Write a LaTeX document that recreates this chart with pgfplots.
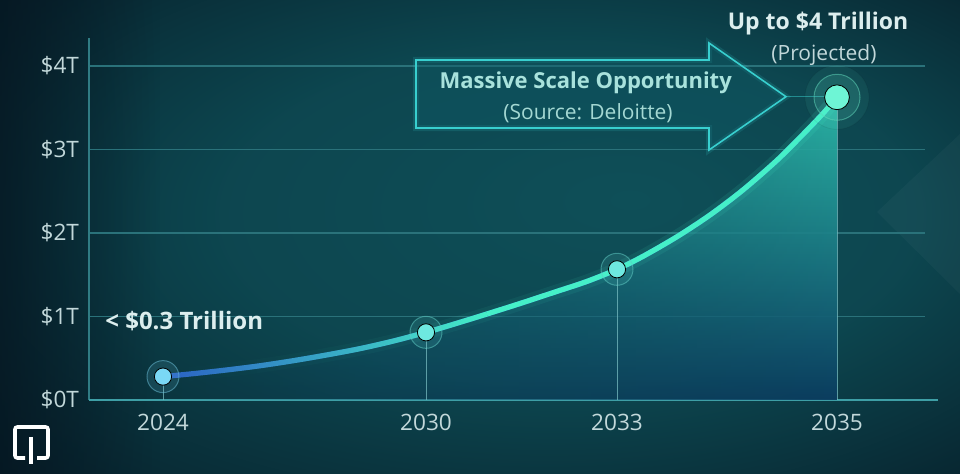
\documentclass[border=0pt]{standalone}
\usepackage{pgfplots}
\pgfplotsset{compat=1.18}
\usepackage{pgfplotstable}
\usetikzlibrary{fadings}
\usepackage{fontspec}
\setmainfont{Open Sans}

\definecolor{bgmid}{HTML}{0E4F58}
\definecolor{bgedge}{HTML}{05141F}
\definecolor{txt}{HTML}{DCEEEE}
\definecolor{tickc}{HTML}{C2D8DA}
\definecolor{gridc}{HTML}{2A727A}
\definecolor{axisc}{HTML}{3E9FA6}
\definecolor{curveL}{HTML}{2B5FC4}
\definecolor{curveR}{HTML}{45F0C8}
\definecolor{fillTop}{HTML}{2BB8A8}
\definecolor{fillBot}{HTML}{0B3D60}
\definecolor{arrowc}{HTML}{38CFCF}
\definecolor{arrowfill}{HTML}{0E5A66}
\definecolor{dotA}{HTML}{7AD8F5}
\definecolor{dotB}{HTML}{6EE8E0}
\definecolor{dotC}{HTML}{6EF5D5}
\definecolor{headc}{HTML}{A8E2DC}

\tikzfading[name=fadein right, left color=transparent!100, right color=transparent!0]
\tikzfading[name=fadeout right, left color=transparent!0, right color=transparent!100]
\pgfdeclareradialshading{bgglow}{\pgfpoint{8bp}{4bp}}{color(0bp)=(bgmid); color(18bp)=(bgmid!85!bgedge); color(45bp)=(bgedge)}

% market size points: position along axis, year, value (trillion USD)
\pgfplotstableread{
pos year value
163 2024 0.28
426 2030 0.81
617 2033 1.565
837 2035 3.625
}\data

% trace of the drawn growth curve
\pgfplotstableread{
pos value
163 0.28
193 0.315
227 0.36
260 0.41
293 0.47
327 0.54
360 0.615
393 0.705
426 0.81
453 0.905
487 1.03
520 1.155
553 1.285
587 1.42
617 1.565
643 1.72
677 1.955
710 2.215
743 2.515
777 2.87
803 3.18
823 3.43
837 3.625
}\curve

\begin{document}
\begin{tikzpicture}
% background
\shade[shading=bgglow] (0pt,0pt) rectangle (480pt,237pt);
\fill[bgedge, path fading=fadeout right, opacity=0.7] (0pt,0pt) rectangle (80pt,237pt);
\fill[white, opacity=0.03] (438.5pt,131pt) -- (480pt,170pt) -- (480pt,90pt) -- cycle;
% logo
\draw[white, line width=1.8pt, rounded corners=1.2pt] (12.5pt,8pt) -- (7.5pt,8pt) -- (7.5pt,23.5pt) -- (24pt,23.5pt) -- (24pt,8pt) -- (18.5pt,8pt);
\draw[white, line width=1.8pt] (15.6pt,18.5pt) -- (15.6pt,5pt);

\begin{axis}[
  at={(44.5pt,37pt)}, anchor=south west,
  scale only axis, width=418pt, height=181pt,
  xmin=89, xmax=925, ymin=0, ymax=4.335,
  axis line style={draw=none},
  major tick length=0pt,
  xtick={163,426,617,837},
  xticklabels={2024,2030,2033,2035},
  ytick={0,1,2,3,4},
  yticklabels={\$0T,\$1T,\$2T,\$3T,\$4T},
  ticklabel style={font=\fontsize{11.3}{13}\selectfont, text=tickc},
  xticklabel style={yshift=-3.5pt},
  yticklabel style={xshift=-1.5pt},
  ymajorgrids,
  grid style={gridc, line width=0.55pt},
  clip=false,
]
% axis lines
\draw[axisc!75!bgedge, line width=0.6pt] (rel axis cs:0,0) -- (rel axis cs:0,1);
\draw[axisc, line width=0.8pt] (rel axis cs:0,0) -- (rel axis cs:1.015,0);

% area under curve
\addplot[draw=none, smooth, top color=fillTop, bottom color=fillBot, path fading=fadein right, fill opacity=0.95] table[x=pos, y=value]{\curve} \closedcycle;

% drop lines
\addplot[ycomb, draw=axisc!70!white, line width=0.5pt, opacity=0.75, mark=none] table[x=pos, y=value]{\data};

% curve: glow, base blue, teal overlay fading in, solid teal
\addplot[smooth, line width=7pt, color=curveR, opacity=0.12, path fading=fadein right] table[x=pos, y=value]{\curve};
\addplot[smooth, line width=2.6pt, color=curveL] table[x=pos, y=value]{\curve};
\addplot[smooth, line width=2.6pt, color=curveR, path fading=fadein right, restrict x to domain=150:500] table[x=pos, y=value]{\curve};
\addplot[smooth, line width=2.6pt, color=curveR, restrict x to domain=480:900] table[x=pos, y=value]{\curve};

% markers
\addplot[only marks, mark=*, mark size=8pt, mark options={fill=dotA, draw=none, opacity=0.12}, restrict x to domain=0:200] table[x=pos, y=value]{\data};
\addplot[only marks, mark=o, mark size=8pt, mark options={draw=dotA, line width=0.5pt, opacity=0.45}, restrict x to domain=0:200] table[x=pos, y=value]{\data};
\addplot[only marks, mark=*, mark size=4.3pt, mark options={fill=dotA, draw=none}, restrict x to domain=0:200] table[x=pos, y=value]{\data};

\addplot[only marks, mark=*, mark size=8pt, mark options={fill=dotB, draw=none, opacity=0.12}, restrict x to domain=300:700] table[x=pos, y=value]{\data};
\addplot[only marks, mark=o, mark size=8pt, mark options={draw=dotB, line width=0.5pt, opacity=0.45}, restrict x to domain=300:700] table[x=pos, y=value]{\data};
\addplot[only marks, mark=*, mark size=4.3pt, mark options={fill=dotB, draw=none}, restrict x to domain=300:700] table[x=pos, y=value]{\data};

\addplot[only marks, mark=*, mark size=16pt, mark options={fill=dotC, draw=none, opacity=0.07}, restrict x to domain=800:900] table[x=pos, y=value]{\data};
\addplot[only marks, mark=*, mark size=11.5pt, mark options={fill=dotC, draw=none, opacity=0.13}, restrict x to domain=800:900] table[x=pos, y=value]{\data};
\addplot[only marks, mark=o, mark size=11.5pt, mark options={draw=dotC, line width=0.5pt, opacity=0.45}, restrict x to domain=800:900] table[x=pos, y=value]{\data};
\addplot[only marks, mark=*, mark size=6.2pt, mark options={fill=dotC, draw=none}, restrict x to domain=800:900] table[x=pos, y=value]{\data};

% arrow callout
\draw[arrowc, line width=3pt, opacity=0.15] (axis cs:416,4.072) -- (axis cs:709,4.072) -- (axis cs:709,4.275) -- (axis cs:786,3.632) -- (axis cs:709,2.994) -- (axis cs:709,3.257) -- (axis cs:416,3.257) -- cycle;
\draw[arrowc, line width=0.8pt, fill=arrowfill, fill opacity=0.4] (axis cs:416,4.072) -- (axis cs:709,4.072) -- (axis cs:709,4.275) -- (axis cs:786,3.632) -- (axis cs:709,2.994) -- (axis cs:709,3.257) -- (axis cs:416,3.257) -- cycle;
\draw[arrowc, line width=0.4pt, opacity=0.5] (axis cs:786,3.632) -- (axis cs:824,3.632);

\node[font=\fontsize{11}{13}\selectfont\bfseries, text=headc] at (axis cs:585.7,3.796) {Massive Scale Opportunity};
\node[font=\fontsize{10.5}{12}\selectfont, text=headc!90!gray] at (axis cs:588,3.44) {(Source: Deloitte)};
\node[font=\fontsize{11.5}{13}\selectfont\bfseries, text=txt] at (axis cs:818,4.503) {Up to \$4 Trillion};
\node[font=\fontsize{10.5}{12}\selectfont, text=tickc] at (axis cs:824,4.13) {(Projected)};
\node[font=\fontsize{12}{14}\selectfont\bfseries, text=txt, anchor=west, inner sep=0pt] at (axis cs:105,0.946) {< \$0.3 Trillion};
\end{axis}
\pgfresetboundingbox
\useasboundingbox (0pt,0pt) rectangle (480pt,237pt);
\end{tikzpicture}
\end{document}
